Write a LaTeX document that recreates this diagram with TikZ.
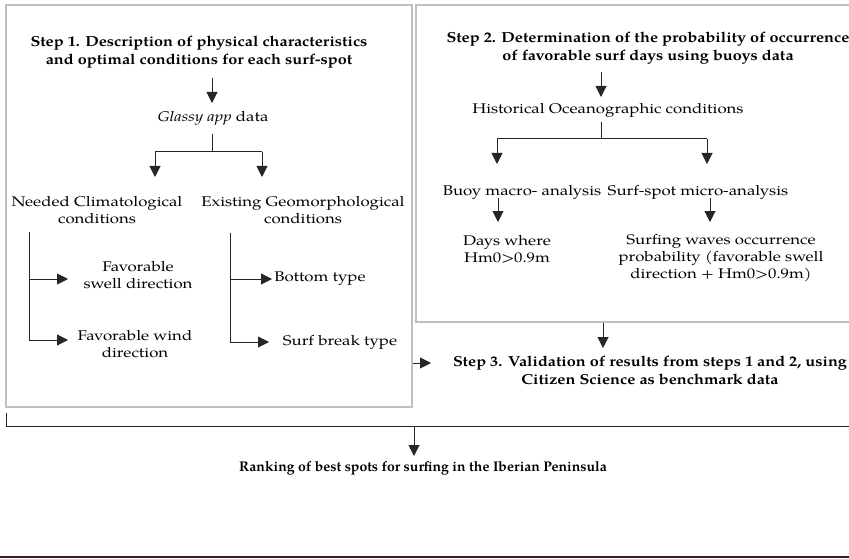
\documentclass[tikz,border=0pt]{standalone}
\usepackage{fontspec}
\setmainfont{TeX Gyre Pagella}[FakeStretch=1.2]
\newfontfamily\ttlfont{TeX Gyre Pagella}[FakeStretch=1.12]
\newfontfamily\rankfont{TeX Gyre Pagella}
\usetikzlibrary{arrows.meta}
\begin{document}
\begin{tikzpicture}[x=1pt,y=-1pt,
  txt/.style={font=\fontsize{14}{17}\selectfont, align=center, inner sep=0pt},
  ttl/.style={font=\ttlfont\fontsize{14.5}{18}\selectfont\bfseries, align=center, inner sep=0pt},
  boxline/.style={draw=black!25, line width=1.6pt},
  ln/.style={draw=black!85, line width=1pt},
  arr/.style={ln, -{Triangle[width=11pt,length=11pt]}}]
\useasboundingbox (0,0) rectangle (849,559);
% boxes
\draw[boxline] (6,5) rectangle (412,407);
\draw[boxline] (416,5) rectangle (855,322);
% Step 1
\node[ttl] (s1) at (199,52) {Step 1. Description of physical characteristics\\and optimal conditions for each surf-spot};
\node[txt] (glassy) at (213,118) {\textit{Glassy app} data};
\node[txt] (needed) at (97,210) {Needed Climatological\\conditions};
\node[txt] (existing) at (303,210) {Existing Geomorphological\\conditions};
\node[txt] (fsw) at (138,275) {Favorable\\swell direction};
\node[txt] (fwd) at (135,344) {Favorable wind\\direction};
\node[txt] (bottom) at (320,279) {Bottom type};
\node[txt] (sbreak) at (340,342) {Surf break type};
% Step 2
\node[ttl] (s2) at (648,48) {Step 2. Determination of the probability of occurrence\\of favorable surf days using buoys data};
\node[txt] (hist) at (608,110) {Historical Oceanographic conditions};
\node[txt] (buoy) at (522,192) {Buoy macro- analysis};
\node[txt] (sspot) at (698,192) {Surf-spot micro-analysis};
\node[txt] (days) at (507,249) {Days where\\Hm0>0.9m};
\node[txt] (prob) at (721,258) {Surfing waves occurrence\\probability (favorable swell\\direction + Hm0>0.9m)};
% Step 3
\node[ttl] (s3) at (650,370) {Step 3. Validation of results from steps 1 and 2, using\\Citizen Science as benchmark data};
\node[font=\rankfont\fontsize{14}{17}\selectfont\bfseries, inner sep=0pt] (rank) at (423,468) {Ranking of best spots for surfing in the Iberian Peninsula};
% coordinates
\coordinate (a1) at (212,78);
\coordinate (a1e) at (212,103);
\coordinate (j1t) at (212,134);
\coordinate (j1) at (212,152);
\coordinate (j1l) at (155,152);
\coordinate (j1r) at (262,152);
\coordinate (j1le) at (155,177);
\coordinate (j1re) at (262,177);
\coordinate (v1t) at (29,232);
\coordinate (v1m) at (29,279);
\coordinate (v1b) at (29,340);
\coordinate (v1me) at (68,279);
\coordinate (v1be) at (68,340);
\coordinate (v2t) at (230,233);
\coordinate (v2m) at (230,279);
\coordinate (v2b) at (230,342);
\coordinate (v2me) at (272,279);
\coordinate (v2be) at (269,342);
\coordinate (a2) at (601,72);
\coordinate (a2e) at (601,97);
\coordinate (j2t) at (601,122);
\coordinate (j2) at (601,139);
\coordinate (j2l) at (497,139);
\coordinate (j2r) at (707,139);
\coordinate (j2le) at (497,164);
\coordinate (j2re) at (707,164);
\coordinate (b1) at (498,198);
\coordinate (b1e) at (498,222);
\coordinate (b2) at (710,198);
\coordinate (b2e) at (710,222);
\coordinate (c1) at (603,323);
\coordinate (c1e) at (603,348);
\coordinate (c2) at (413,363);
\coordinate (c2e) at (431,363);
\coordinate (d0) at (6,413);
\coordinate (d1) at (6,426);
\coordinate (d2) at (849,426);
\coordinate (d3) at (414,426);
\coordinate (d3e) at (414,456);
% connectors step 1
\draw[arr] (a1) -- (a1e);
\draw[ln] (j1t) -- (j1);
\draw[ln] (j1l) -- (j1r);
\draw[arr] (j1l) -- (j1le);
\draw[arr] (j1r) -- (j1re);
\draw[ln] (v1t) -- (v1b);
\draw[arr] (v1m) -- (v1me);
\draw[arr] (v1b) -- (v1be);
\draw[ln] (v2t) -- (v2b);
\draw[arr] (v2m) -- (v2me);
\draw[arr] (v2b) -- (v2be);
% connectors step 2
\draw[arr] (a2) -- (a2e);
\draw[ln] (j2t) -- (j2);
\draw[ln] (j2l) -- (j2r);
\draw[arr] (j2l) -- (j2le);
\draw[arr] (j2r) -- (j2re);
\draw[arr] (b1) -- (b1e);
\draw[arr] (b2) -- (b2e);
% step 3 and ranking
\draw[arr] (c1) -- (c1e);
\draw[arr] (c2) -- (c2e);
\draw[ln] (d0) -- (d1) -- (d2);
\draw[arr] (d3) -- (d3e);
% bottom rule
\draw[draw=black!85, line width=1.8pt] (0,557) -- (849,557);
\end{tikzpicture}
\end{document}
